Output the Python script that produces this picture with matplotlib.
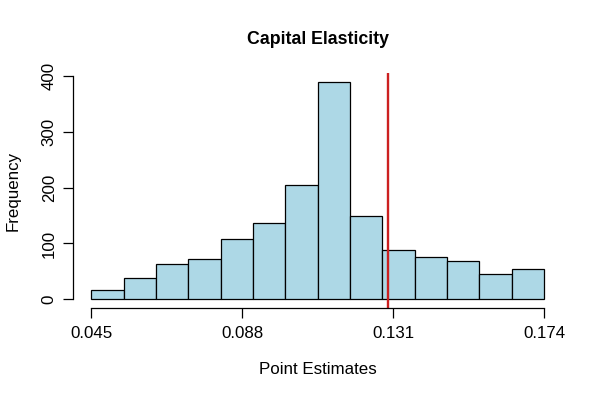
import matplotlib
matplotlib.use("Agg")
import matplotlib.pyplot as plt
import numpy as np

plt.rcParams['font.family'] = ['Liberation Sans', 'DejaVu Sans']

# Data
break_min = 0.045
break_max = 0.174
counts = [17, 38, 63, 72, 108, 136, 204, 389, 150, 88, 75, 68, 45, 54]
x_tick_labels = ["0.045", "0.088", "0.131", "0.174"]
y_ticks = [0, 100, 200, 300, 400]
true_value = 0.1295

edges = np.linspace(break_min, break_max, len(counts) + 1)
x_ticks = [float(s) for s in x_tick_labels]

fig = plt.figure(figsize=(6, 4), dpi=100)
ax = fig.add_axes([0.1223, 0.2300, 0.9368 - 0.1223, 0.8163 - 0.2300])

ax.hist(edges[:-1], bins=edges, weights=counts, color='#ADD8E6',
        edgecolor='black', linewidth=0.9)
ax.axvline(true_value, color='#CC2020', linewidth=1.7)

xr = break_max - break_min
ax.set_xlim(break_min - 0.04 * xr, break_max + 0.04 * xr)
ymax = max(counts)
ax.set_ylim(-0.04 * ymax, ymax * 1.04)

for s in ['top', 'right']:
    ax.spines[s].set_visible(False)
ax.spines['left'].set_bounds(0, 400)
ax.spines['bottom'].set_bounds(x_ticks[0], x_ticks[-1])
for s in ['left', 'bottom']:
    ax.spines[s].set_linewidth(0.9)

ax.set_xticks(x_ticks)
ax.set_xticklabels(x_tick_labels)
ax.set_yticks(y_ticks)
ax.set_yticklabels([str(v) for v in y_ticks], rotation=90, va='center')
ax.tick_params(axis='both', length=7, width=0.9, labelsize=12.2)
ax.tick_params(axis='x', pad=6)
ax.tick_params(axis='y', pad=5)

fig.text(0.5296, 1 - 370 / 400, "Point Estimates", ha='center', va='center',
         fontsize=12.2)
fig.text(13 / 600, 0.5 * (0.23 + 0.8163), "Frequency", ha='center', va='center',
         rotation=90, fontsize=12.2)
fig.text(0.5296, 1 - 40 / 400, "Capital Elasticity", ha='center', va='center',
         fontsize=12.8, fontweight='bold')

fig.savefig("out.png", dpi=100)
